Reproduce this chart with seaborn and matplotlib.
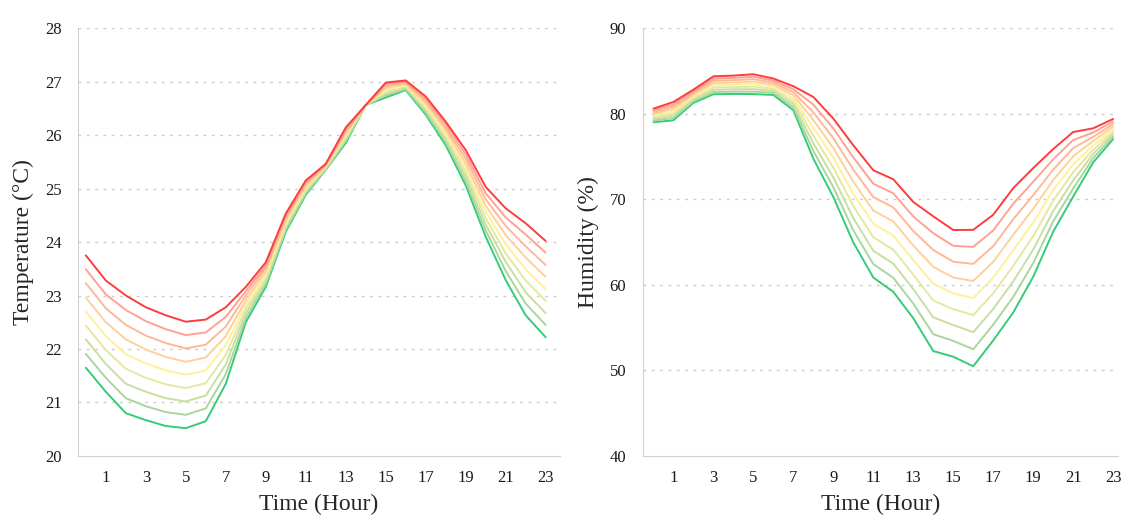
import numpy as np
import pandas as pd
import matplotlib
matplotlib.use("Agg")
import matplotlib.pyplot as plt
import seaborn as sns

# hours of the day
hours = list(range(24))

# temperature curves (top = red ... bottom = green)
temp_1 = [23.75, 23.28, 23.00, 22.78, 22.63, 22.51, 22.55, 22.78, 23.16, 23.62, 24.53, 25.15, 25.46, 26.14, 26.56, 26.98, 27.02, 26.72, 26.25, 25.72, 25.03, 24.63, 24.35, 24.02]
temp_2 = [23.49, 23.02, 22.73, 22.52, 22.37, 22.26, 22.31, 22.60, 23.08, 23.56, 24.49, 25.12, 25.45, 26.10, 26.56, 26.95, 27.00, 26.68, 26.20, 25.64, 24.91, 24.46, 24.14, 23.80]
temp_3 = [23.23, 22.76, 22.45, 22.25, 22.11, 22.01, 22.08, 22.42, 23.00, 23.51, 24.45, 25.08, 25.43, 26.07, 26.56, 26.91, 26.98, 26.64, 26.14, 25.56, 24.80, 24.30, 23.92, 23.57]
temp_4 = [22.96, 22.50, 22.18, 21.99, 21.85, 21.76, 21.84, 22.24, 22.91, 23.45, 24.40, 25.05, 25.42, 26.03, 26.56, 26.88, 26.95, 26.59, 26.09, 25.47, 24.68, 24.13, 23.71, 23.35]
temp_5 = [22.70, 22.24, 21.90, 21.73, 21.60, 21.52, 21.60, 22.07, 22.83, 23.39, 24.36, 25.02, 25.41, 26.00, 26.56, 26.84, 26.93, 26.55, 26.03, 25.39, 24.57, 23.96, 23.49, 23.12]
temp_6 = [22.44, 21.98, 21.63, 21.46, 21.34, 21.27, 21.36, 21.89, 22.75, 23.33, 24.32, 24.98, 25.39, 25.96, 26.56, 26.81, 26.91, 26.51, 25.98, 25.31, 24.45, 23.79, 23.28, 22.90]
temp_7 = [22.18, 21.72, 21.35, 21.20, 21.08, 21.02, 21.13, 21.71, 22.67, 23.27, 24.28, 24.95, 25.38, 25.92, 26.56, 26.77, 26.89, 26.47, 25.92, 25.23, 24.33, 23.63, 23.06, 22.67]
temp_8 = [21.91, 21.46, 21.08, 20.93, 20.82, 20.77, 20.89, 21.53, 22.58, 23.22, 24.23, 24.91, 25.36, 25.89, 26.56, 26.74, 26.86, 26.42, 25.87, 25.14, 24.22, 23.46, 22.85, 22.45]
temp_9 = [21.65, 21.20, 20.80, 20.67, 20.56, 20.52, 20.65, 21.35, 22.50, 23.16, 24.19, 24.88, 25.35, 25.85, 26.56, 26.70, 26.84, 26.38, 25.81, 25.06, 24.10, 23.29, 22.63, 22.22]

# humidity curves (top = red ... bottom = green)
hum_1 = [80.58, 81.36, 82.80, 84.36, 84.44, 84.60, 84.10, 83.20, 81.95, 79.42, 76.30, 73.38, 72.33, 69.68, 68.00, 66.40, 66.42, 68.18, 71.29, 73.63, 75.86, 77.85, 78.28, 79.38]
hum_2 = [80.38, 81.09, 82.61, 84.10, 84.17, 84.31, 83.86, 82.85, 81.05, 78.28, 74.88, 71.81, 70.69, 67.98, 66.03, 64.55, 64.43, 66.35, 69.47, 72.04, 74.65, 76.91, 77.78, 79.09]
hum_3 = [80.18, 80.83, 82.41, 83.84, 83.91, 84.02, 83.62, 82.50, 80.15, 77.13, 73.46, 70.25, 69.04, 66.29, 64.07, 62.70, 62.44, 64.51, 67.66, 70.46, 73.45, 75.97, 77.29, 78.79]
hum_4 = [79.98, 80.56, 82.22, 83.57, 83.64, 83.73, 83.38, 82.15, 79.25, 75.99, 72.04, 68.68, 67.40, 64.59, 62.10, 60.85, 60.44, 62.68, 65.84, 68.87, 72.24, 75.02, 76.79, 78.50]
hum_5 = [79.79, 80.29, 82.03, 83.31, 83.37, 83.44, 83.14, 81.80, 78.35, 74.84, 70.63, 67.12, 65.76, 62.89, 60.13, 59.00, 58.45, 60.84, 64.03, 67.29, 71.04, 74.08, 76.29, 78.21]
hum_6 = [79.59, 80.02, 81.83, 83.05, 83.10, 83.15, 82.90, 81.45, 77.44, 73.70, 69.21, 65.55, 64.11, 61.19, 58.16, 57.15, 56.46, 59.01, 62.21, 65.70, 69.83, 73.14, 75.79, 77.91]
hum_7 = [79.39, 79.76, 81.64, 82.79, 82.84, 82.86, 82.66, 81.10, 76.54, 72.55, 67.79, 63.98, 62.47, 59.50, 56.20, 55.30, 54.47, 57.17, 60.39, 64.11, 68.62, 72.19, 75.30, 77.62]
hum_8 = [79.19, 79.49, 81.44, 82.52, 82.57, 82.57, 82.42, 80.75, 75.64, 71.41, 66.37, 62.42, 60.82, 57.80, 54.23, 53.45, 52.47, 55.34, 58.58, 62.53, 67.42, 71.25, 74.80, 77.32]
hum_9 = [78.99, 79.22, 81.25, 82.26, 82.30, 82.28, 82.18, 80.40, 74.74, 70.26, 64.95, 60.85, 59.18, 56.10, 52.26, 51.60, 50.48, 53.50, 56.76, 60.94, 66.21, 70.31, 74.30, 77.03]

temp_series = [temp_1, temp_2, temp_3, temp_4, temp_5, temp_6, temp_7, temp_8, temp_9]
hum_series = [hum_1, hum_2, hum_3, hum_4, hum_5, hum_6, hum_7, hum_8, hum_9]

colors = ["#ff3c3c", "#ffa193", "#ffb896", "#ffd09a", "#fff09a",
          "#e4e8a0", "#c9dfa0", "#a9d69c", "#35cc78"]

x_ticks = [1, 3, 5, 7, 9, 11, 13, 15, 17, 19, 21, 23]
temp_ticks = [20, 21, 22, 23, 24, 25, 26, 27, 28]
hum_ticks = [40, 50, 60, 70, 80, 90]


def long_frame(series):
    rows = []
    for i, s in enumerate(series):
        for h, v in zip(hours, s):
            rows.append({"hour": h, "value": v, "line": i})
    return pd.DataFrame(rows)


sns.set_style("white")
plt.rcParams["font.family"] = ["Liberation Serif", "DejaVu Serif"]

fig = plt.figure(figsize=(11.23, 5.16), dpi=100)
ax1 = fig.add_axes([0.0695, 0.1163, 0.4292, 0.8294])
ax2 = fig.add_axes([0.5726, 0.1163, 0.4229, 0.8294])

panels = [
    (ax1, temp_series, temp_ticks, "Temperature (°C)", (-0.39, 23.72)),
    (ax2, hum_series, hum_ticks, "Humidity (%)", (-0.52, 23.24)),
]

# draw green first so the red curve ends up on top
order = list(range(9))[::-1]
pal = {i: colors[i] for i in range(9)}

for ax, series, yt, ylab, xl in panels:
    df = long_frame(series)
    sns.lineplot(data=df, x="hour", y="value", hue="line", palette=pal,
                 hue_order=order, linewidth=1.4, legend=False, ax=ax,
                 estimator=None)
    ax.set_xlim(*xl)
    ax.set_ylim(yt[0], yt[-1])
    ax.set_yticks(yt)
    ax.set_xticks(x_ticks)
    for v in yt[1:]:
        ax.axhline(v, color="#cccccc", linewidth=1, linestyle=(0, (2, 4)), zorder=0)
    for sp in ["top", "right"]:
        ax.spines[sp].set_visible(False)
    ax.spines["left"].set_color("#d0d0d0")
    ax.spines["bottom"].set_color("#d0d0d0")
    ax.tick_params(axis="both", length=0, labelsize=12, colors="#1a1a1a")
    ax.tick_params(axis="y", pad=12)
    ax.tick_params(axis="x", pad=10)
    ax.set_xlabel("Time (Hour)", fontsize=17, labelpad=6)
    ax.set_ylabel(ylab, fontsize=17, labelpad=8)

fig.savefig("out.png", dpi=100)
